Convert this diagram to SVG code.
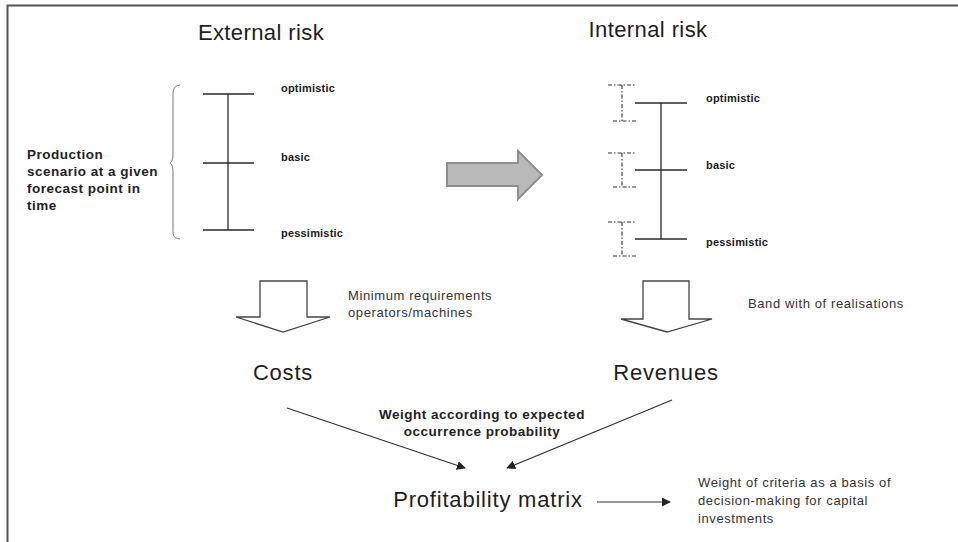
<svg xmlns="http://www.w3.org/2000/svg" width="958" height="542" viewBox="0 0 958 542">
  <style>
    .title { font-family: "Liberation Sans", Arial, sans-serif; font-size: 22px; fill: #1e1e1e; text-anchor: middle; letter-spacing: 0.4px; }
    .big { font-family: "Liberation Sans", Arial, sans-serif; font-size: 22px; fill: #1e1e1e; text-anchor: middle; letter-spacing: 0.8px; }
    .lvl { font-family: "Liberation Sans", Arial, sans-serif; font-size: 11px; font-weight: bold; fill: #1a1a1a; letter-spacing: 0.2px; }
    .bold { font-family: "Liberation Sans", Arial, sans-serif; font-size: 13.5px; font-weight: bold; fill: #222; letter-spacing: 0.5px; }
    .note { font-family: "Liberation Sans", Arial, sans-serif; font-size: 13px; fill: #333; letter-spacing: 0.6px; }
    .bar { stroke: #2a2a2a; stroke-width: 1.3; fill: none; }
    .band { stroke: #333; stroke-width: 1.1; fill: none; stroke-dasharray: 4 2 1.5 2; }
    .hollow { fill: #fff; stroke: #444; stroke-width: 1.3; }
    .conn { stroke: #333; stroke-width: 1.2; fill: none; marker-end: url(#tri); }
  </style>
  <defs>
    <marker id="tri" viewBox="0 0 10 10" refX="9" refY="5" markerWidth="9" markerHeight="9" markerUnits="userSpaceOnUse" orient="auto">
      <path d="M0,0 L10,5 L0,10 z" fill="#222"/>
    </marker>
  </defs>

  <rect width="958" height="542" fill="#fff"/>
  <!-- page frame (top and left edges) -->
  <path d="M7.5,560 V5.5 H970" fill="none" stroke="#555" stroke-width="2"/>

  <!-- external risk -->
  <g id="external-risk">
    <text class="title" x="261" y="40">External risk</text>
    <path class="bar" d="M203,94 H254 M203,163 H254 M203,230 H254 M228,94 V230"/>
    <text class="lvl" x="281" y="92">optimistic</text>
    <text class="lvl" x="281" y="161">basic</text>
    <text class="lvl" x="281" y="237">pessimistic</text>
  </g>

  <g id="production-scenario">
    <path d="M180,85 C172,86 173,92 173,100 L173,152 C173,159 172,162 170,163 C172,164 173,167 173,174 L173,226 C173,234 172,238 180,239" fill="none" stroke="#777" stroke-width="1"/>
    <text class="bold" x="27" y="159">Production</text>
    <text class="bold" x="27" y="176">scenario at a given</text>
    <text class="bold" x="27" y="193">forecast point in</text>
    <text class="bold" x="27" y="210">time</text>
  </g>

  <!-- transition arrow -->
  <g id="transfer-arrow">
    <path d="M447,163 H518 V151 L542,175 L518,199 V186 H447 Z" fill="#b9b9b9" stroke="#8e8e8e" stroke-width="2" stroke-linejoin="miter"/>
  </g>

  <!-- internal risk -->
  <g id="internal-risk">
    <text class="title" x="648" y="37">Internal risk</text>
    <path class="bar" d="M635,103 H687 M635,170 H687 M635,239 H687 M661,103 V239"/>
    <path class="band" d="M608,85 H636 M622,85 V121 M613,121 H636"/>
    <path class="band" d="M608,153 H636 M622,153 V187 M613,187 H636"/>
    <path class="band" d="M608,222 H636 M622,222 V256 M613,256 H636"/>
    <text class="lvl" x="706" y="102">optimistic</text>
    <text class="lvl" x="706" y="169">basic</text>
    <text class="lvl" x="706" y="246">pessimistic</text>
  </g>

  <!-- costs -->
  <g id="costs">
    <path class="hollow" d="M260,281 H307 V317 H330 L283,332 L236,317 H260 Z"/>
    <text class="note" x="348" y="300">Minimum requirements</text>
    <text class="note" x="348" y="317">operators/machines</text>
    <text class="big" x="283" y="380">Costs</text>
  </g>

  <!-- revenues -->
  <g id="revenues">
    <path class="hollow" d="M643,281 H689 V319 H712 L667,332 L621,319 H643 Z"/>
    <text class="note" x="748" y="308">Band with of realisations</text>
    <text class="big" x="666" y="380">Revenues</text>
  </g>

  <!-- profitability matrix -->
  <g id="profitability-matrix">
    <text class="big" x="488" y="507">Profitability matrix</text>
  </g>

  <g id="decision-note">
    <text class="note" x="698" y="487">Weight of criteria as a basis of</text>
    <text class="note" x="698" y="505">decision-making for capital</text>
    <text class="note" x="698" y="523">investments</text>
  </g>

  <g id="weighting-label">
    <text class="bold" x="482" y="419" text-anchor="middle">Weight according to expected</text>
    <text class="bold" x="482" y="436" text-anchor="middle">occurrence probability</text>
  </g>

  <!-- connectors -->
  <g id="connectors">
    <line class="conn" x1="287" y1="408" x2="465" y2="468"/>
    <line class="conn" x1="672" y1="400" x2="507" y2="468"/>
    <line class="conn" x1="597" y1="502" x2="670" y2="502"/>
  </g>
</svg>
